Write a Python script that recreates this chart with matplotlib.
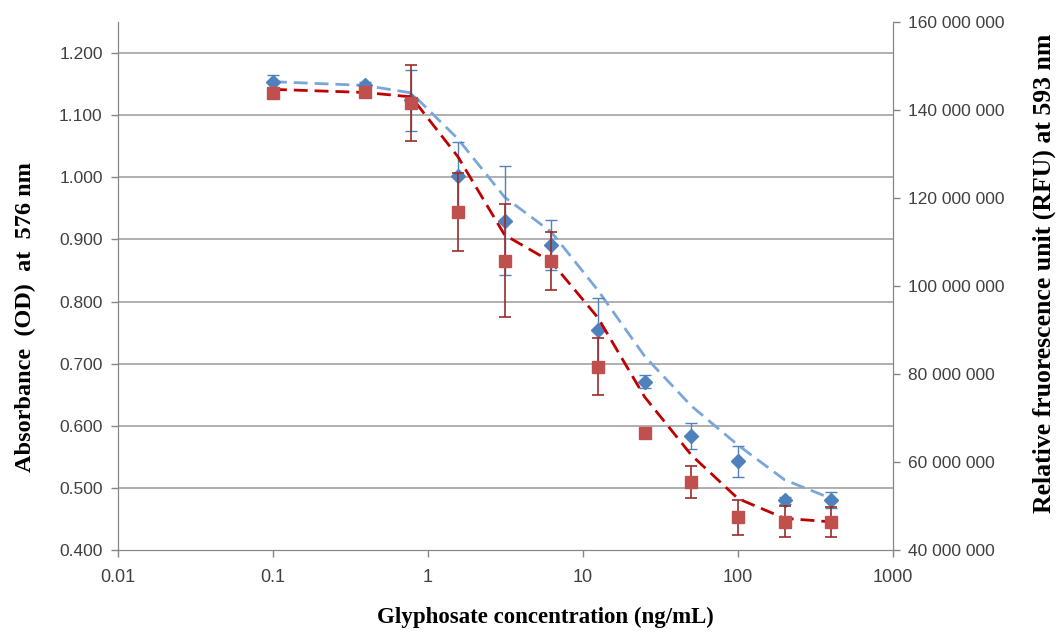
import numpy as np
import matplotlib
matplotlib.use('Agg')
import matplotlib.pyplot as plt

# glyphosate concentrations (ng/mL)
conc = [0.1, 0.39, 0.78, 1.56, 3.125, 6.25, 12.5, 25, 50, 100, 200, 400]

# absorbance (OD) at 576 nm - blue diamonds
od = [1.154, 1.148, 1.124, 1.002, 0.930, 0.891, 0.754, 0.671, 0.584, 0.543, 0.480, 0.480]
od_err = [0.010, 0.006, 0.049, 0.055, 0.088, 0.040, 0.051, 0.010, 0.021, 0.025, 0.006, 0.013]
od_fit = [1.154, 1.148, 1.136, 1.062, 0.968, 0.912, 0.818, 0.712, 0.632, 0.569, 0.513, 0.483]

# RFU at 593 nm - red squares
rfu = [143.9e6, 144.0e6, 141.6e6, 116.9e6, 105.8e6, 105.7e6, 81.7e6, 66.7e6, 55.5e6, 47.4e6, 46.4e6, 46.4e6]
rfu_err = [0, 0, 8.6e6, 8.9e6, 12.8e6, 6.6e6, 6.4e6, 0, 3.6e6, 3.9e6, 3.5e6, 3.4e6]
rfu_fit = [144.7e6, 144.0e6, 143.0e6, 129.4e6, 111.6e6, 105.5e6, 92.8e6, 74.8e6, 61.6e6, 51.7e6, 47.2e6, 46.4e6]

left_ticks = [0.4, 0.5, 0.6, 0.7, 0.8, 0.9, 1.0, 1.1, 1.2]
right_ticks = [40e6, 60e6, 80e6, 100e6, 120e6, 140e6, 160e6]
x_ticks = [0.01, 0.1, 1, 10, 100, 1000]
x_labels = ['0.01', '0.1', '1', '10', '100', '1000']

blue = '#4f81bd'
blue_fit = '#7aa6d9'
red = '#c0504d'
red_fit = '#c00000'
red_err = '#9c2b28'
axis_gray = '#868686'
text_gray = '#404040'

fig = plt.figure(figsize=(10.57, 6.32), dpi=100)
ax = fig.add_axes([0.1116, 0.1297, 0.7332, 0.8354])
ax2 = ax.twinx()

ax.set_xscale('log')
ax.set_xlim(0.01, 1000)
ax.set_ylim(0.4, 1.25)
ax2.set_ylim(40e6, 160e6)

for y in left_ticks[1:]:
    ax.axhline(y, color='#9a9a9a', lw=1.1, zorder=0)

# blue series (left axis)
ax.plot(conc, od_fit, color=blue_fit, lw=2, dashes=(5, 2.5), zorder=2)
ax.errorbar(conc, od, yerr=od_err, fmt='D', color=blue, ms=7, mec=blue,
            ecolor=blue, elinewidth=1, capsize=4, capthick=1, zorder=3)

# red series (right axis)
ax2.plot(conc, rfu_fit, color=red_fit, lw=2, dashes=(5, 2.5), zorder=2)
ax2.errorbar(conc, rfu, yerr=rfu_err, fmt='s', color=red, ms=8.5, mec=red,
             ecolor=red_err, elinewidth=1.2, capsize=4, capthick=1.2, zorder=3)

ax.set_xticks(x_ticks)
ax.set_xticklabels(x_labels, family='Liberation Sans', fontsize=13, color=text_gray)
ax.xaxis.set_minor_locator(matplotlib.ticker.NullLocator())
ax.set_yticks(left_ticks)
ax.set_yticklabels([f'{v:.3f}' for v in left_ticks], family='Liberation Sans',
                   fontsize=12.5, color=text_gray)
ax2.set_yticks(right_ticks)
ax2.set_yticklabels([f'{int(v):,}'.replace(',', ' ') for v in right_ticks],
                    family='Liberation Sans', fontsize=12.5, color=text_gray)

for a in (ax, ax2):
    a.spines['top'].set_visible(False)
    for s in ('left', 'right', 'bottom'):
        a.spines[s].set_color(axis_gray)
    a.tick_params(axis='both', which='major', direction='out', length=5,
                  color=axis_gray, width=1)
ax.tick_params(axis='x', pad=9)
ax.tick_params(axis='y', pad=6)
ax2.tick_params(axis='y', pad=6)

# axis titles placed where the reference has them
fig.text(0.5156, 0.0237, 'Glyphosate concentration (ng/mL)', family='Liberation Serif',
         fontweight='bold', fontsize=16.5, ha='center', va='center')
fig.text(0.0237, 0.4984, 'Absorbance  (OD)  at  576 nm', family='Liberation Serif',
         fontweight='bold', fontsize=17.5, ha='center', va='center', rotation=90)
fig.text(0.9877, 0.568, 'Relative fruorescence unit (RFU) at 593 nm', family='Liberation Serif',
         fontweight='bold', fontsize=18.5, ha='center', va='center', rotation=90)

fig.savefig('out.png', dpi=100)
